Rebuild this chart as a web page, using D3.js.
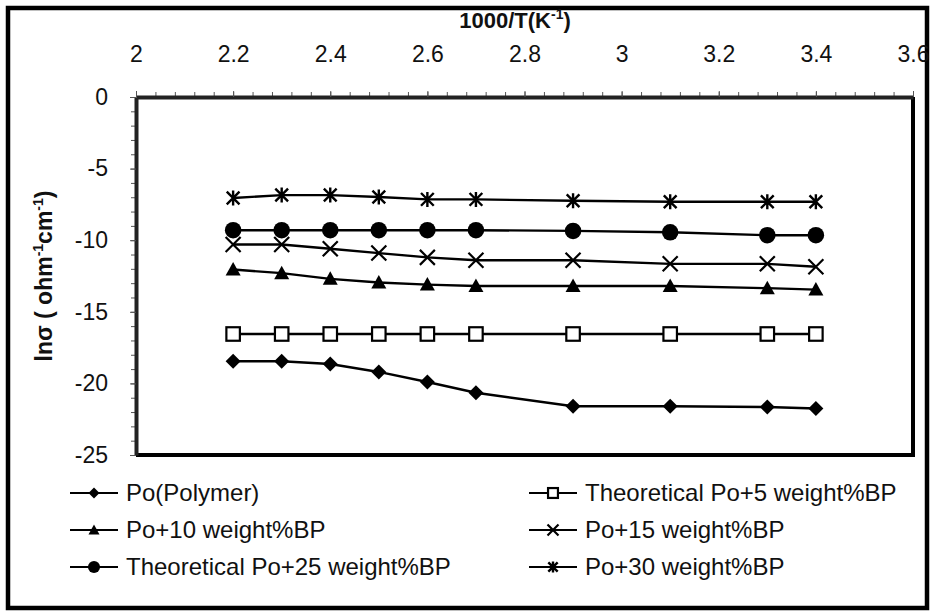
<!DOCTYPE html>
<html>
<head>
<meta charset="utf-8">
<script src="https://cdn.jsdelivr.net/npm/d3@7"></script>
<style>
  body { margin: 0; background: #fff; }
  svg text { font-family: "Liberation Sans", Arial, sans-serif; fill: #111; }
</style>
</head>
<body>
<div id="chart"></div>
<script>
// x values (1000/T)
const xVals = [2.2, 2.3, 2.4, 2.5, 2.6, 2.7, 2.9, 3.1, 3.3, 3.4];

// ln sigma for each sample
const poPolymer = [-18.45, -18.45, -18.65, -19.2, -19.9, -20.65, -21.6, -21.6, -21.65, -21.75];
const theo5 = [-16.55, -16.55, -16.55, -16.55, -16.55, -16.55, -16.55, -16.55, -16.55, -16.55];
const po10 = [-12.05, -12.3, -12.7, -12.95, -13.1, -13.2, -13.2, -13.2, -13.35, -13.45];
const po15 = [-10.3, -10.3, -10.6, -10.9, -11.2, -11.4, -11.4, -11.65, -11.65, -11.85];
const theo25 = [-9.3, -9.3, -9.3, -9.3, -9.3, -9.3, -9.35, -9.45, -9.65, -9.65];
const po30 = [-7.05, -6.85, -6.85, -6.98, -7.15, -7.15, -7.25, -7.32, -7.32, -7.32];

const seriesNames = ['Po(Polymer)', 'Theoretical Po+5 weight%BP', 'Po+10 weight%BP',
  'Po+15 weight%BP', 'Theoretical Po+25 weight%BP', 'Po+30 weight%BP'];
const markers = ['diamond', 'square', 'triangle', 'x', 'circle', 'star'];

const xTicks = [2, 2.2, 2.4, 2.6, 2.8, 3, 3.2, 3.4, 3.6];
const yTicks = [0, -5, -10, -15, -20, -25];

const width = 933;
const height = 614;
const plot = { left: 136, right: 913, top: 97, bottom: 455 };

const series = [poPolymer, theo5, po10, po15, theo25, po30].map((vals, i) => ({
  name: seriesNames[i],
  marker: markers[i],
  points: vals.map((v, j) => ({ x: xVals[j], y: v }))
}));

const svg = d3.select('#chart')
  .append('svg')
  .attr('width', width)
  .attr('height', height);

// outer frame
svg.append('rect')
  .attr('x', 8).attr('y', 8)
  .attr('width', 919).attr('height', 600)
  .attr('fill', 'none')
  .attr('stroke', '#000')
  .attr('stroke-width', 4.5);

const x = d3.scaleLinear()
  .domain([2, 3.6])
  .range([plot.left, plot.right]);

const y = d3.scaleLinear()
  .domain([-25, 0])
  .range([plot.bottom, plot.top]);

// right + bottom border of plot area
svg.append('path')
  .attr('d', `M${plot.right},${plot.top}V${plot.bottom}H${plot.left}`)
  .attr('fill', 'none')
  .attr('stroke', '#000')
  .attr('stroke-width', 4);

// minor ticks
svg.append('g')
  .attr('transform', `translate(0,${plot.top})`)
  .call(d3.axisTop(x).tickValues(d3.range(0, 41).map(i => 2 + i * 0.04)).tickSize(5).tickFormat(''))
  .call(g => g.select('.domain').remove())
  .call(g => g.selectAll('line').attr('stroke', '#555').attr('stroke-width', 1));

svg.append('g')
  .attr('transform', `translate(${plot.left},0)`)
  .call(d3.axisLeft(y).tickValues(d3.range(-25, 1)).tickSize(5).tickFormat(''))
  .call(g => g.select('.domain').remove())
  .call(g => g.selectAll('line').attr('stroke', '#555').attr('stroke-width', 1));

function xAxis(g) {
  g.attr('transform', `translate(0,${plot.top})`)
    .call(d3.axisTop(x).tickValues(xTicks).tickSize(6).tickSizeOuter(0).tickPadding(29)
      .tickFormat(d => String(+d.toFixed(1))))
    .call(g => g.select('.domain').attr('stroke', '#222').attr('stroke-width', 4))
    .call(g => g.selectAll('.tick line').attr('stroke', '#555'))
    .call(g => g.selectAll('.tick text').attr('font-size', 23).attr('fill', '#111'));
}

function yAxis(g) {
  g.attr('transform', `translate(${plot.left},0)`)
    .call(d3.axisLeft(y).tickValues(yTicks).tickSize(6).tickSizeOuter(0).tickPadding(22)
      .tickFormat(d => String(d)))
    .call(g => g.select('.domain').attr('stroke', '#222').attr('stroke-width', 4))
    .call(g => g.selectAll('.tick line').attr('stroke', '#555'))
    .call(g => g.selectAll('.tick text').attr('font-size', 23).attr('fill', '#111'));
}

svg.append('g').call(xAxis);
svg.append('g').call(yAxis);

// axis titles
const xt = svg.append('text')
  .attr('x', 515).attr('y', 28)
  .attr('text-anchor', 'middle')
  .attr('font-size', 22)
  .attr('font-weight', 'bold');
xt.append('tspan').text('1000/T(K');
xt.append('tspan').attr('font-size', 14).attr('dy', -9).text('-1');
xt.append('tspan').attr('dy', 9).text(')');

const yt = svg.append('text')
  .attr('transform', `translate(52,${(plot.top + plot.bottom) / 2}) rotate(-90)`)
  .attr('text-anchor', 'middle')
  .attr('font-size', 23)
  .attr('font-weight', 'bold');
yt.append('tspan').text('lnσ ( ohm');
yt.append('tspan').attr('font-size', 14).attr('dy', -9).text('-1');
yt.append('tspan').attr('dy', 9).text('cm');
yt.append('tspan').attr('font-size', 14).attr('dy', -9).text('-1');
yt.append('tspan').attr('dy', 9).text(')');

// marker drawing
function drawMarker(sel, type, s) {
  if (type === 'diamond') {
    sel.append('path').attr('d', `M0,${-s}L${s},0L0,${s}L${-s},0Z`).attr('fill', '#000');
  } else if (type === 'square') {
    const h = s * 0.9;
    sel.append('rect').attr('x', -h).attr('y', -h).attr('width', 2 * h).attr('height', 2 * h)
      .attr('fill', '#fff').attr('stroke', '#000').attr('stroke-width', 2.2);
  } else if (type === 'triangle') {
    sel.append('path').attr('d', `M0,${-s}L${s},${s * 0.8}L${-s},${s * 0.8}Z`).attr('fill', '#000');
  } else if (type === 'circle') {
    sel.append('circle').attr('r', s * 1.1).attr('fill', '#000');
  } else if (type === 'x') {
    sel.append('path').attr('d', `M${-s},${-s}L${s},${s}M${-s},${s}L${s},${-s}`)
      .attr('stroke', '#000').attr('stroke-width', 2.2);
  } else if (type === 'star') {
    const k = s * 0.85;
    sel.append('path').attr('d', `M${-k},${-k}L${k},${k}M${-k},${k}L${k},${-k}M0,${-s}V${s}`)
      .attr('stroke', '#000').attr('stroke-width', 2.4);
  }
}

const line = d3.line()
  .x(d => x(d.x))
  .y(d => y(d.y));

const sg = svg.append('g')
  .selectAll('g')
  .data(series)
  .join('g');

sg.append('path')
  .attr('d', d => line(d.points))
  .attr('fill', 'none')
  .attr('stroke', '#000')
  .attr('stroke-width', 2.4);

sg.each(function (d) {
  d3.select(this).selectAll('g.m')
    .data(d.points)
    .join('g')
    .attr('class', 'm')
    .attr('transform', p => `translate(${x(p.x)},${y(p.y)})`)
    .each(function () { drawMarker(d3.select(this), d.marker, 7.5); });
});

// legend
const legendRows = [493, 530, 567];
const legendCols = [70, 529];
const lg = svg.append('g')
  .selectAll('g')
  .data(series)
  .join('g')
  .attr('transform', (d, i) => `translate(${legendCols[i % 2]},${legendRows[Math.floor(i / 2)]})`);

lg.append('line')
  .attr('x1', 0).attr('x2', 48)
  .attr('stroke', '#000').attr('stroke-width', 2);

lg.each(function (d) {
  const m = d3.select(this).append('g').attr('transform', 'translate(24,0)');
  drawMarker(m, d.marker, 5.5);
});

lg.append('text')
  .attr('x', 56)
  .attr('dy', '0.35em')
  .attr('font-size', 24)
  .text(d => d.name);
</script>
</body>
</html>
